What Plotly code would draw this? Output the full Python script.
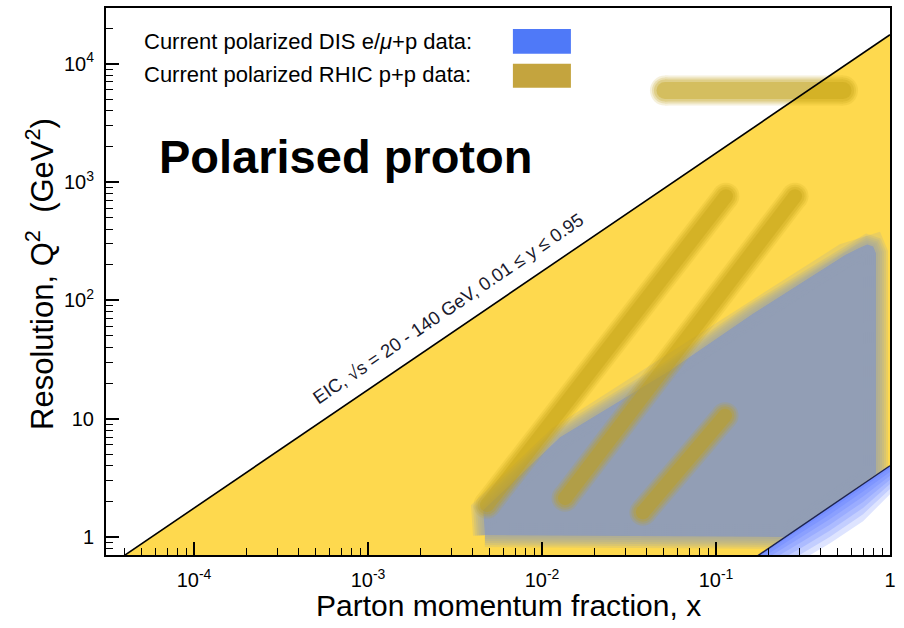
import plotly.graph_objects as go

# ---------------- data ----------------
x_tickvals = [1e-4, 1e-3, 1e-2, 1e-1, 1]
x_ticktext = ["10<sup>-4</sup>", "10<sup>-3</sup>", "10<sup>-2</sup>", "10<sup>-1</sup>", "1"]
y_tickvals = [1, 10, 100, 1000, 10000]
y_ticktext = ["1", "10", "10<sup>2</sup>", "10<sup>3</sup>", "10<sup>4</sup>"]

# EIC kinematic limits (two end points of each boundary line)
eic_x = [1e-5, 1.0]
eic_upper_q2 = [0.1755, 17550.0]   # y = 0.95, sqrt(s) = 140 GeV
eic_lower_q2 = [4e-5, 4.0]         # y = 0.01, sqrt(s) = 20 GeV

# blue halo below the lower EIC line (outer edges of successive layers)
halo_x = [0.15, 0.3, 0.45, 0.7, 1.0]
halo_line_q2 = [0.6, 1.2, 1.8, 2.8, 4.0]
halo_layers_q2 = [
    [0.36, 0.62, 0.88, 1.36, 2.30],
    [0.40, 0.70, 1.00, 1.56, 2.55],
    [0.44, 0.79, 1.13, 1.76, 2.80],
    [0.48, 0.88, 1.27, 1.98, 3.05],
    [0.52, 0.97, 1.41, 2.20, 3.30],
    [0.55, 1.06, 1.55, 2.42, 3.55],
    [0.58, 1.14, 1.68, 2.62, 3.80],
]

# current polarized DIS data region (outline)
dis_x = [0.0047, 0.0046, 0.0127, 0.0544, 0.163, 0.55, 0.66, 0.74, 0.8, 0.83, 0.831, 0.25, 0.0047]
dis_q2 = [1.04, 1.69, 6.95, 25.5, 76.9, 240, 275, 296, 285, 250, 3.4, 1.0, 1.04]

# current polarized RHIC p+p data streaks (end points)
rhic_a_x = [0.00483, 0.114]
rhic_a_q2 = [1.86, 759]
rhic_b_x = [0.01356, 0.2845]
rhic_b_q2 = [2.13, 759]
rhic_c_x = [0.038, 0.1127]
rhic_c_q2 = [1.62, 10.6]
rhic_d_x = [0.0509, 0.537]
rhic_d_q2 = [5925, 5925]

minor_x = [m * 10 ** e for e in range(-5, 1) for m in range(2, 10)]
minor_y = [m * 10 ** e for e in range(-1, 5) for m in range(2, 10)]

# ---------------- style ----------------
FONT = "Liberation Sans, Arial, Helvetica, sans-serif"
YELLOW = "#FED94E"
GREY = "#929EB5"
GOLD = "#C2A014"
BLUE = "#4A6CFF"

fig = go.Figure()

# yellow EIC region
fig.add_trace(go.Scatter(
    x=eic_x + eic_x[::-1], y=eic_upper_q2 + eic_lower_q2[::-1],
    fill="toself", fillcolor=YELLOW, mode="none", hoverinfo="skip", showlegend=False))

# DIS region with soft edges
fig.add_trace(go.Scatter(x=dis_x, y=dis_q2, fill="toself", fillcolor=GREY,
                         mode="none", hoverinfo="skip", showlegend=False))
for w in [24, 20, 16, 12, 8, 4]:
    fig.add_trace(go.Scatter(x=dis_x, y=dis_q2, mode="lines",
                             line=dict(color=GREY, width=w), opacity=0.18,
                             hoverinfo="skip", showlegend=False))

# white mask below lower line, then blue halo
fig.add_trace(go.Scatter(
    x=[eic_x[0], eic_x[1], eic_x[1], eic_x[0]],
    y=[eic_lower_q2[0], eic_lower_q2[1], 1e-3, 1e-3],
    fill="toself", fillcolor="white", mode="none", hoverinfo="skip", showlegend=False))
for bound in halo_layers_q2:
    fig.add_trace(go.Scatter(
        x=halo_x + halo_x[::-1], y=halo_line_q2 + bound[::-1],
        fill="toself", fillcolor=BLUE, mode="none", opacity=0.18,
        hoverinfo="skip", showlegend=False))

# RHIC streaks, soft edges
streaks = [(rhic_a_x, rhic_a_q2, 17), (rhic_b_x, rhic_b_q2, 17),
           (rhic_c_x, rhic_c_q2, 17), (rhic_d_x, rhic_d_q2, 20)]
for sx, sy, w in streaks:
    for extra, op in [(10, 0.15), (6, 0.2), (2, 0.25), (-3, 0.35)]:
        ww = w + extra
        fig.add_trace(go.Scatter(
            x=sx, y=sy, mode="lines+markers",
            line=dict(color=GOLD, width=ww),
            marker=dict(color=GOLD, size=ww, line=dict(width=0)),
            opacity=op, hoverinfo="skip", showlegend=False))

# EIC boundary lines
fig.add_trace(go.Scatter(x=eic_x, y=eic_upper_q2, mode="lines",
                         line=dict(color="black", width=1.6),
                         hoverinfo="skip", showlegend=False))
fig.add_trace(go.Scatter(x=eic_x, y=eic_lower_q2, mode="lines",
                         line=dict(color="#1c2350", width=1.4),
                         hoverinfo="skip", showlegend=False))

axis_common = dict(
    type="log", showgrid=False, zeroline=False,
    showline=True, linecolor="black", linewidth=2, mirror=True,
    ticks="inside", ticklen=13, tickwidth=1.5, tickcolor="black",
    tickfont=dict(family=FONT, size=20, color="black"),
)
fig.update_xaxes(**axis_common, range=[-4.506, 0], tickmode="array",
                 tickvals=x_tickvals, ticktext=x_ticktext, ticklabelstandoff=6,
                 minor=dict(ticks="inside", ticklen=7, tickwidth=1.3, tickcolor="black",
                            tickmode="array", tickvals=minor_x, showgrid=False))
fig.update_yaxes(**axis_common, range=[-0.152, 4.47], tickmode="array",
                 tickvals=y_tickvals, ticktext=y_ticktext, ticklabelstandoff=6,
                 minor=dict(ticks="inside", ticklen=7, tickwidth=1.3, tickcolor="black",
                            tickmode="array", tickvals=minor_y, showgrid=False))

annotations = [
    dict(text="Parton momentum fraction, x", xref="paper", yref="paper",
         x=0.514, y=-0.093, xanchor="center", yanchor="middle", showarrow=False,
         font=dict(family=FONT, size=30, color="black")),
    dict(text="Resolution, Q<sup>2</sup>  (GeV<sup>2</sup>)", xref="paper", yref="paper",
         x=-0.084, y=0.514, xanchor="center", yanchor="middle", showarrow=False,
         textangle=-90, font=dict(family=FONT, size=31, color="black")),
    dict(text="<b>Polarised proton</b>", xref="paper", yref="paper",
         x=0.065, y=0.7286, xanchor="left", yanchor="middle", showarrow=False,
         font=dict(family=FONT, size=47, color="black")),
    dict(text="Current polarized DIS e/<i>μ</i>+p data:", xref="paper", yref="paper",
         x=0.0459, y=0.938, xanchor="left", yanchor="middle", showarrow=False,
         font=dict(family=FONT, size=22, color="black")),
    dict(text="Current polarized RHIC p+p data:", xref="paper", yref="paper",
         x=0.0459, y=0.878, xanchor="left", yanchor="middle", showarrow=False,
         font=dict(family=FONT, size=22, color="black")),
    dict(text="EIC, √s = 20 - 140 GeV, 0.01 ≤ y ≤ 0.95", xref="x", yref="y",
         x=-2.540, y=1.93, xanchor="center", yanchor="middle", showarrow=False,
         textangle=-34.3, font=dict(family=FONT, size=18.5, color="#1a1a2e")),
]

shapes = [
    dict(type="rect", xref="paper", yref="paper", x0=0.519, x1=0.593, y0=0.9162, y1=0.9617,
         fillcolor="#4F79F8", line=dict(width=0)),
    dict(type="rect", xref="paper", yref="paper", x0=0.519, x1=0.593, y0=0.854, y1=0.898,
         fillcolor="#C4A43E", line=dict(width=0)),
]

fig.update_layout(
    width=904, height=628,
    margin=dict(l=106, r=14, t=6, b=73),
    paper_bgcolor="white", plot_bgcolor="white",
    showlegend=False,
    annotations=annotations, shapes=shapes,
)

fig.write_html("out.html", config={"displayModeBar": False},
               post_script="document.body.style.margin='0';")
